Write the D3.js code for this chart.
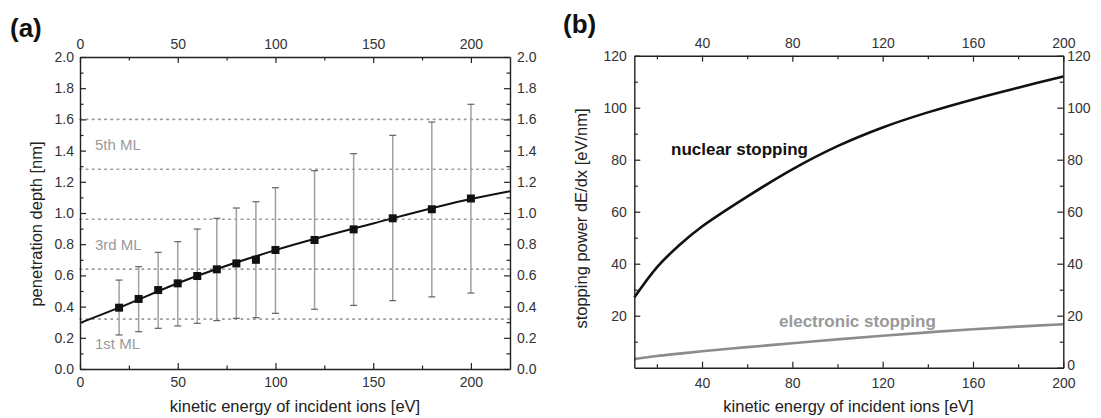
<!DOCTYPE html>
<html>
<head>
<meta charset="utf-8">
<script src="https://cdn.jsdelivr.net/npm/d3@7"></script>
<style>
  body { margin: 0; background: #fff; }
  svg text { font-family: "Liberation Sans", Arial, sans-serif; }
</style>
</head>
<body>
<svg id="fig" width="1101" height="418"></svg>
<script>
// ---- Panel (a): mean penetration depth with spread ----
const energyA   = [20, 30, 40, 50, 60, 70, 80, 90, 100, 120, 140, 160, 180, 200];
const depthMean = [0.393, 0.449, 0.506, 0.549, 0.596, 0.639, 0.677, 0.700, 0.763, 0.827, 0.895, 0.966, 1.024, 1.093];
const depthHigh = [0.570, 0.656, 0.748, 0.816, 0.897, 0.966, 1.032, 1.072, 1.162, 1.271, 1.380, 1.498, 1.583, 1.697];
const depthLow  = [0.218, 0.239, 0.261, 0.276, 0.293, 0.310, 0.325, 0.329, 0.357, 0.383, 0.408, 0.438, 0.462, 0.487];
// fitted trend through the means
const fitEnergy = [0, 20, 50, 100, 150, 200, 220];
const fitDepth  = [0.295, 0.393, 0.550, 0.762, 0.933, 1.090, 1.140];
// monolayer boundaries and labels
const monolayerDepths = [0.32, 0.64, 0.96, 1.28, 1.60];
const monolayerLabels = ["1st ML", "3rd ML", "5th ML"];
const monolayerBands  = [0, 2, 4];
const xTicksA = [0, 50, 100, 150, 200];
const xMinorA = [25, 75, 125, 175];
const yTicksA = [0, 0.2, 0.4, 0.6, 0.8, 1.0, 1.2, 1.4, 1.6, 1.8, 2.0];
const yMinorA = [0.1, 0.3, 0.5, 0.7, 0.9, 1.1, 1.3, 1.5, 1.7, 1.9];

// ---- Panel (b): stopping power ----
const energyB    = [10, 20, 30, 40, 60, 80, 100, 120, 140, 160, 180, 200];
const nuclear    = [27, 38.6, 47.2, 54.3, 65.8, 76.3, 85.2, 92.4, 98.2, 103.2, 107.7, 112];
const electronic = [3.3, 4.5, 5.4, 6.3, 7.9, 9.4, 10.9, 12.3, 13.6, 14.8, 15.8, 16.7];
const xTicksB = [40, 80, 120, 160, 200];
const xMinorB = [20, 60, 100, 140, 180];
const yTicksLeftB  = [20, 40, 60, 80, 100, 120];
const yTicksRightB = [0, 20, 40, 60, 80, 100, 120];
const yMinorB = [10, 30, 50, 70, 90, 110];

const xTitle = "kinetic energy of incident ions [eV]";

const svg = d3.select("#fig");
const TICK_FONT = 14, TITLE_FONT = 16.5;
const MAJOR = 6, MINOR = 3.5;

function styleAxis(g) {
  g.select(".domain").attr("stroke", "#222").attr("stroke-width", 1.4);
  g.selectAll(".tick line").attr("stroke", "#222").attr("stroke-width", 1.2);
  g.selectAll(".tick text").attr("fill", "#333").style("font-size", TICK_FONT + "px")
    .style("font-family", '"Liberation Sans", Arial, sans-serif');
}

// draws a full frame: four axes with inward major + minor ticks
function frame(x, y, opt) {
  const [x0, x1] = x.range();
  const [y0, y1] = y.range(); // y0 bottom, y1 top
  const mk = (axisFn, scale, ticks, minor, fmt, pad, tr) => {
    const gMin = svg.append("g").attr("transform", tr)
      .call(axisFn(scale).tickValues(minor).tickSizeInner(-MINOR).tickSizeOuter(0).tickFormat(""));
    styleAxis(gMin);
    gMin.select(".domain").remove();
    const a = axisFn(scale).tickValues(ticks).tickSizeInner(-MAJOR).tickSizeOuter(0)
      .tickPadding(pad).tickFormat(fmt);
    const g = svg.append("g").attr("transform", tr).call(a);
    styleAxis(g);
    return g;
  };
  const out = {};
  out.bottom = mk(d3.axisBottom, x, opt.xTicks, opt.xMinor, opt.xFmt, opt.padB, `translate(0,${y0})`);
  out.top = mk(d3.axisTop, x, opt.xTicks, opt.xMinor, opt.xFmt, opt.padT, `translate(0,${y1})`);
  out.left = mk(d3.axisLeft, y, opt.yTicksL, opt.yMinor, opt.yFmt, opt.padL, `translate(${x0},0)`);
  out.right = mk(d3.axisRight, y, opt.yTicksR, opt.yMinor, opt.yFmt, opt.padR, `translate(${x1},0)`);
  return out;
}

function panelLabel(txt, px, py) {
  svg.append("text").attr("x", px).attr("y", py).text(txt)
    .style("font-size", "26px").style("font-weight", "bold").attr("fill", "#111");
}

function axisTitles(xc, yb, yTitleText, xr, yc) {
  svg.append("text").attr("x", xc).attr("y", yb).attr("text-anchor", "middle")
    .style("font-size", TITLE_FONT + "px").attr("fill", "#222").text(xTitle);
  svg.append("text").attr("transform", `translate(${xr},${yc}) rotate(-90)`)
    .attr("text-anchor", "middle").style("font-size", TITLE_FONT + "px").attr("fill", "#222")
    .text(yTitleText);
}

// ================= Panel (a) =================
{
  const x = d3.scaleLinear().domain([0, 220]).range([80, 510]);
  const y = d3.scaleLinear().domain([0, 2]).range([369, 57]);

  // monolayer dotted guides
  svg.append("g").selectAll("line").data(monolayerDepths).join("line")
    .attr("x1", x(0)).attr("x2", x(220))
    .attr("y1", d => y(d)).attr("y2", d => y(d))
    .attr("stroke", "#9a9a9a").attr("stroke-width", 1.6)
    .attr("stroke-dasharray", "1.6,4.6").attr("stroke-linecap", "round");

  const bounds = [0, ...monolayerDepths];
  svg.append("g").selectAll("text").data(monolayerLabels).join("text")
    .attr("x", 95)
    .attr("y", (d, i) => y((bounds[monolayerBands[i]] + bounds[monolayerBands[i] + 1]) / 2))
    .attr("dy", "0.36em")
    .style("font-size", "15px").attr("fill", "#9a9a9a").text(d => d);

  // error bars
  const eb = svg.append("g");
  energyA.forEach((e, i) => {
    eb.append("line").attr("x1", x(e)).attr("x2", x(e))
      .attr("y1", y(depthLow[i])).attr("y2", y(depthHigh[i]))
      .attr("stroke", "#a0a0a0").attr("stroke-width", 1.5);
    [depthLow[i], depthHigh[i]].forEach(v => {
      eb.append("line").attr("x1", x(e) - 3.5).attr("x2", x(e) + 3.5)
        .attr("y1", y(v)).attr("y2", y(v))
        .attr("stroke", "#555").attr("stroke-width", 1.1);
    });
  });

  // fitted trend
  const fit = fitEnergy.map((e, i) => [e, fitDepth[i]]);
  svg.append("path").datum(fit)
    .attr("d", d3.line().x(d => x(d[0])).y(d => y(d[1])).curve(d3.curveMonotoneX))
    .attr("fill", "none").attr("stroke", "#111").attr("stroke-width", 2);

  // mean values
  svg.append("g").selectAll("rect").data(energyA).join("rect")
    .attr("x", d => x(d) - 4).attr("y", (d, i) => y(depthMean[i]) - 4)
    .attr("width", 8).attr("height", 8).attr("fill", "#111");

  frame(x, y, {
    xTicks: xTicksA, xMinor: xMinorA, xFmt: d3.format("d"),
    yTicksL: yTicksA, yTicksR: yTicksA, yMinor: yMinorA, yFmt: d3.format(".1f"),
    padB: 8, padT: 8, padL: 6, padR: 7
  });

  axisTitles(295, 412, "penetration depth [nm]", 41.5, 224);
  panelLabel("(a)", 10, 37);
}

// ================= Panel (b) =================
{
  const x = d3.scaleLinear().domain([10, 200]).range([634.3, 1063.3]);
  const y = d3.scaleLinear().domain([0, 120]).range([367.7, 55.7]);
  const line = d3.line().x(d => x(d[0])).y(d => y(d[1])).curve(d3.curveCatmullRom.alpha(0.5));

  svg.append("path").datum(energyB.map((e, i) => [e, electronic[i]]))
    .attr("d", line).attr("fill", "none").attr("stroke", "#8c8c8c").attr("stroke-width", 2.6);
  svg.append("path").datum(energyB.map((e, i) => [e, nuclear[i]]))
    .attr("d", line).attr("fill", "none").attr("stroke", "#111").attr("stroke-width", 2.6);

  svg.append("text").attr("x", 671).attr("y", 155).text("nuclear stopping")
    .style("font-size", "17px").style("font-weight", "bold").attr("fill", "#111");
  svg.append("text").attr("x", 779).attr("y", 327).text("electronic stopping")
    .style("font-size", "17px").style("font-weight", "bold").attr("fill", "#999");

  const axes = frame(x, y, {
    xTicks: xTicksB, xMinor: xMinorB, xFmt: d3.format("d"),
    yTicksL: yTicksLeftB, yTicksR: yTicksRightB, yMinor: yMinorB, yFmt: d3.format("d"),
    padB: 10, padT: 8, padL: 7.5, padR: 4
  });
  // keep the corner "0" clear of the bottom "200"
  axes.right.selectAll(".tick text").filter(d => d === 0).attr("dy", "0.12em");

  axisTitles(848.5, 412, "stopping power dE/dx [eV/nm]", 587, 218.5);
  panelLabel("(b)", 563, 33);
}
</script>
</body>
</html>
